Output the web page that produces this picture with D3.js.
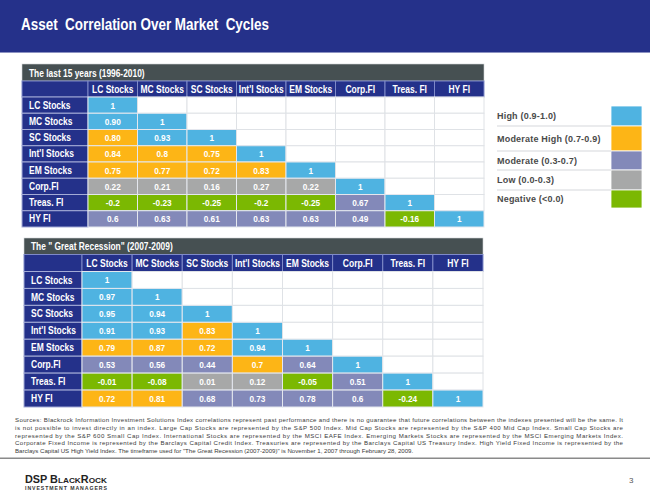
<!DOCTYPE html>
<html><head><meta charset="utf-8">
<script src="https://cdn.jsdelivr.net/npm/d3@7"></script>
<style>body{margin:0;background:#fff}svg{display:block}text{font-family:"Liberation Sans",Arial,sans-serif}</style>
</head><body><svg id="c" width="650" height="497"></svg>
<script>
// ---------------- DATA ----------------
const pageTitle = "Asset  Correlation Over Market  Cycles";
const assets = ["LC Stocks","MC Stocks","SC Stocks","Int'l Stocks","EM Stocks","Corp.FI","Treas. FI","HY FI"];
const titleLast15 = "The last 15 years (1996-2010)";
const valuesLast15 = [
  ["1"],
  ["0.90","1"],
  ["0.80","0.93","1"],
  ["0.84","0.8","0.75","1"],
  ["0.75","0.77","0.72","0.83","1"],
  ["0.22","0.21","0.16","0.27","0.22","1"],
  ["-0.2","-0.23","-0.25","-0.2","-0.25","0.67","1"],
  ["0.6","0.63","0.61","0.63","0.63","0.49","-0.16","1"]
];
// band index per cell: 0 High, 1 Moderate High, 2 Moderate, 3 Low, 4 Negative
const bandsLast15 = [
  [0],
  [0,0],
  [1,0,0],
  [1,1,1,0],
  [1,1,1,1,0],
  [3,3,3,3,3,0],
  [4,4,4,4,4,2,0],
  [2,2,2,2,2,2,4,0]
];
const titleRecession = "The \" Great Recession\" (2007-2009)";
const valuesRecession = [
  ["1"],
  ["0.97","1"],
  ["0.95","0.94","1"],
  ["0.91","0.93","0.83","1"],
  ["0.79","0.87","0.72","0.94","1"],
  ["0.53","0.56","0.44","0.7","0.64","1"],
  ["-0.01","-0.08","0.01","0.12","-0.05","0.51","1"],
  ["0.72","0.81","0.68","0.73","0.78","0.6","-0.24","1"]
];
const bandsRecession = [
  [0],
  [0,0],
  [0,0,0],
  [0,0,1,0],
  [1,1,1,0,0],
  [2,2,2,1,2,0],
  [4,4,3,3,4,2,0],
  [1,1,2,2,2,2,4,0]
];
const legendLabels = ["High (0.9-1.0)","Moderate High (0.7-0.9)","Moderate (0.3-0.7)","Low (0.0-0.3)","Negative (<0.0)"];
const footnoteLines = [
  "Sources: Blackrock Information Investment Solutions Index correlations represent past performance and there is no guarantee that future correlations between the indexes presented will be the same. It",
  "is not possible to invest directly in an index. Large Cap Stocks are represented by the S&P 500 Index. Mid Cap Stocks are represented by the S&P 400 Mid Cap Index. Small Cap Stocks are",
  "represented by the S&P 600 Small Cap Index. International Stocks are represented by the MSCI EAFE Index. Emerging Markets Stocks are represented by the MSCI Emerging Markets Index.",
  "Corporate Fixed Income is represented by the Barclays Capital Credit Index. Treasuries are represented by the Barclays Capital US Treasury Index. High Yield Fixed Income is represented by the",
  "Barclays Capital US High Yield Index. The timeframe used for \"The Great Recession (2007-2009)\" is November 1, 2007 through February 28, 2009."
];
const pageNumber = "3";

// ---------------- STYLE ----------------
const bandColor = d3.scaleOrdinal().domain([0,1,2,3,4])
  .range(["#4fb3e1","#fdb516","#8389b9","#a7a8a8","#7bb802"]);
const navy = "#24318a";
const svg = d3.select("#c");

// title bar
svg.append("rect").attr("x",0).attr("y",0).attr("width",650).attr("height",52).attr("fill","#25318a");
svg.append("rect").attr("x",0).attr("y",52).attr("width",650).attr("height",1).attr("fill","#8c92c2");
svg.append("text").attr("x",21).attr("y",30).attr("fill","#fff").attr("font-size",17).attr("font-weight","bold")
  .attr("textLength",248).attr("lengthAdjust","spacingAndGlyphs").attr("xml:space","preserve").text(pageTitle);

function cText(g, x, y, str, size, sx, opts={}) {
  return g.append("text")
    .attr("transform",`translate(${x},${y}) scale(${sx},1)`)
    .attr("text-anchor",opts.anchor||"middle")
    .attr("font-size",size).attr("font-weight","bold")
    .attr("fill",opts.fill||"#fff")
    .attr("xml:space","preserve")
    .text(str);
}

function drawTable(cfg) {
  const g = svg.append("g");
  const x = d3.scaleBand().domain(assets).range([cfg.dataX0, cfg.x1]);
  const y = d3.scaleBand().domain(assets).range([cfg.rowY0, cfg.rowY1]);
  // title row
  g.append("rect").attr("x",cfg.x0).attr("y",cfg.titleY).attr("width",cfg.x1-cfg.x0)
    .attr("height",cfg.headY-cfg.titleY).attr("fill","#465052").attr("stroke","#d0d4d8").attr("stroke-width",0.6);
  cText(g, cfg.x0+7, cfg.headY-4.5, cfg.title, 10, 0.84, {anchor:"start"});
  // header row
  g.append("rect").attr("x",cfg.x0).attr("y",cfg.headY).attr("width",cfg.dataX0-cfg.x0)
    .attr("height",cfg.rowY0-cfg.headY).attr("fill",navy).attr("stroke","#7f8ac8").attr("stroke-width",1);
  g.selectAll(".hc").data(assets).join("rect")
    .attr("x",d=>x(d)).attr("y",cfg.headY).attr("width",x.bandwidth()).attr("height",cfg.rowY0-cfg.headY)
    .attr("fill",navy).attr("stroke","#7f8ac8").attr("stroke-width",1);
  assets.forEach(a => cText(g, x(a)+x.bandwidth()/2, cfg.rowY0-4.5, a, 10, 0.85));
  // row labels
  g.selectAll(".rl").data(assets).join("rect")
    .attr("x",cfg.x0).attr("y",d=>y(d)).attr("width",cfg.dataX0-cfg.x0).attr("height",y.bandwidth())
    .attr("fill",navy).attr("stroke","#a3abd6").attr("stroke-width",1);
  assets.forEach(a => cText(g, cfg.x0+7, y(a)+y.bandwidth()/2+3.6, a, 10, 0.85, {anchor:"start"}));
  // grid cells
  assets.forEach((ra,ri) => {
    assets.forEach((ca,ci) => {
      const has = ci <= ri;
      g.append("rect").attr("x",x(ca)).attr("y",y(ra)).attr("width",x.bandwidth()).attr("height",y.bandwidth())
        .attr("fill", has ? bandColor(cfg.bands[ri][ci]) : "#fff")
        .attr("stroke", has ? "#e4e7ee" : "#dfe2e6").attr("stroke-width",1);
      if (has) cText(g, x(ca)+x.bandwidth()/2, y(ra)+y.bandwidth()/2+3.4, cfg.values[ri][ci], 9.6, 0.86);
    });
  });
}

drawTable({title:titleLast15, values:valuesLast15, bands:bandsLast15,
  x0:22, dataX0:88, x1:484, titleY:64, headY:81, rowY0:97, rowY1:227});
drawTable({title:titleRecession, values:valuesRecession, bands:bandsRecession,
  x0:24, dataX0:82, x1:483, titleY:238, headY:254.5, rowY0:271.5, rowY1:407});

// legend
const legY = [106,126,151,170,190,208];
const lg = svg.append("g");
legendLabels.forEach((lab,i) => {
  lg.append("rect").attr("x",611).attr("y",legY[i]).attr("width",31).attr("height",legY[i+1]-legY[i])
    .attr("fill",bandColor(i)).attr("stroke","#fff").attr("stroke-width",0.8);
  if (i>0) lg.append("rect").attr("x",497).attr("y",legY[i]-0.5).attr("width",114).attr("height",1).attr("fill","#d6d8dc");
  lg.append("text").attr("x",497).attr("y",(legY[i]+legY[i+1])/2+3.2)
    .attr("font-size",9).attr("font-weight","bold").attr("fill","#4a4a4a").attr("letter-spacing",0.2).text(lab);
});

// footnote
const fg = svg.append("g");
footnoteLines.forEach((ln,i) => {
  const t = fg.append("text").attr("x",15).attr("y",422+i*7.75).attr("font-size",6.1).attr("fill","#3a3a3a").text(ln);
  if (i < footnoteLines.length-1) t.attr("textLength",608).attr("lengthAdjust","spacing");
});
svg.append("rect").attr("x",0).attr("y",457.5).attr("width",650).attr("height",1.5).attr("fill","#8a8a8a");

// logo
const logo = svg.append("text").attr("x",25).attr("y",482.5).attr("fill","#222").attr("font-weight","bold")
  .attr("font-family","'Liberation Sans',Arial,sans-serif");
[["DSP B",10.5],["LACK",8],["R",10.5],["OCK",8]].forEach(([s,f]) => logo.append("tspan").attr("font-size",f).text(s));
logo.attr("textLength",82).attr("lengthAdjust","spacingAndGlyphs");
svg.append("text").attr("x",25).attr("y",489.5).attr("font-size",5.2).attr("font-weight","bold").attr("fill","#333")
  .attr("textLength",82).attr("lengthAdjust","spacing").text("INVESTMENT MANAGERS");
svg.append("text").attr("x",629).attr("y",483).attr("font-size",8).attr("fill","#555").text(pageNumber);
</script></body></html>
